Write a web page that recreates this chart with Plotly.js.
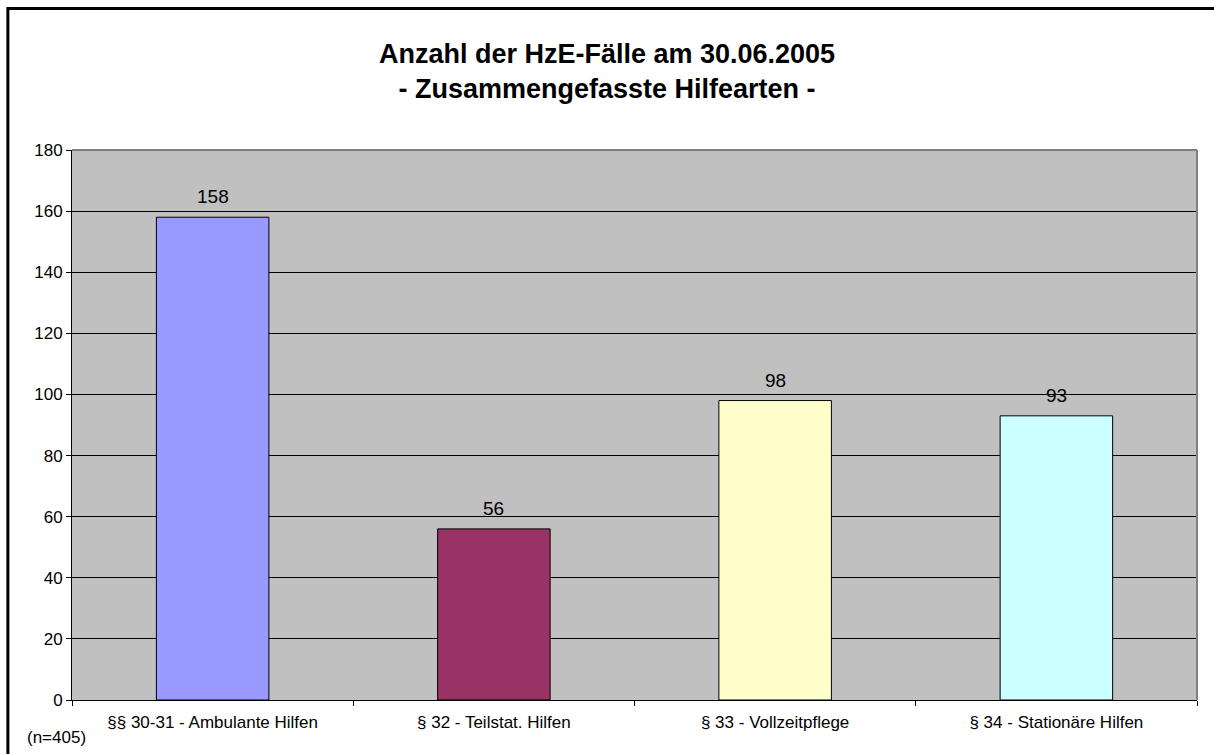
<!DOCTYPE html>
<html>
<head>
<meta charset="utf-8">
<script src="https://cdn.plot.ly/plotly-3.0.1.min.js"></script>
<style>html,body{margin:0;padding:0;background:#fff;}#chart{width:1214px;height:754px;}</style>
</head>
<body>
<div id="chart"></div>
<script>
var categories = ["§§ 30-31 - Ambulante Hilfen", "§ 32 - Teilstat. Hilfen", "§ 33 - Vollzeitpflege", "§ 34 - Stationäre Hilfen"];
var values = [158, 56, 98, 93];
var barColors = ["#9999FF", "#993366", "#FFFFCC", "#CCFFFF"];
var yTicks = [0, 20, 40, 60, 80, 100, 120, 140, 160, 180];

var font = "Liberation Sans, Arial, sans-serif";
var trace = {
  type: "bar",
  x: categories,
  y: values,
  marker: {color: barColors, line: {color: "#000", width: 1}},
  hoverinfo: "none"
};
var valueLabels = categories.map(function (c, i) {
  return {x: c, y: values[i], xref: "x", yref: "y", text: String(values[i]),
    showarrow: false, yanchor: "bottom", yshift: 8,
    font: {family: font, size: 19, color: "#000"}};
});
var layout = {
  width: 1214, height: 754,
  margin: {l: 72, r: 17, t: 150, b: 54},
  paper_bgcolor: "#fff",
  plot_bgcolor: "#C0C0C0",
  bargap: 0.6,
  showlegend: false,
  title: {
    text: "<b>Anzahl der HzE-Fälle am 30.06.2005<br>- Zusammengefasste Hilfearten -</b>",
    font: {family: font, size: 27, color: "#000"},
    x: 0.5, xanchor: "center", y: 0.9165, yanchor: "middle"
  },
  xaxis: {
    type: "category",
    showline: true, linecolor: "#000", linewidth: 1,
    ticks: "outside", tickson: "boundaries", ticklen: 5, tickcolor: "#000",
    showgrid: false,
    ticklabelstandoff: 7,
    tickfont: {family: font, size: 17, color: "#000"},
    fixedrange: true
  },
  yaxis: {
    range: [0, 180],
    tickvals: yTicks,
    showline: true, linecolor: "#000", linewidth: 1,
    ticks: "outside", ticklen: 5, tickcolor: "#000",
    showgrid: true, gridcolor: "#000", gridwidth: 1,
    zeroline: false,
    tickfont: {family: font, size: 17, color: "#000"},
    fixedrange: true
  },
  shapes: [
    {type: "line", xref: "paper", yref: "paper", x0: 0, x1: 1, y0: 1, y1: 1, line: {color: "#808080", width: 2}},
    {type: "line", xref: "paper", yref: "paper", x0: 1, x1: 1, y0: 0, y1: 1, line: {color: "#808080", width: 2}},
    {type: "rect", xref: "paper", yref: "paper", x0: -0.057, x1: 1.1, y0: -0.2, y1: 1.2575, line: {color: "#000", width: 3}, fillcolor: "rgba(0,0,0,0)", layer: "above"}
  ],
  annotations: valueLabels.concat([
    {text: "(n=405)", xref: "paper", yref: "paper", x: -0.0417, y: -0.069, xanchor: "left", yanchor: "middle", showarrow: false, font: {family: font, size: 17, color: "#000"}}
  ])
};
Plotly.newPlot("chart", [trace], layout, {displayModeBar: false, staticPlot: true});
</script>
</body>
</html>
